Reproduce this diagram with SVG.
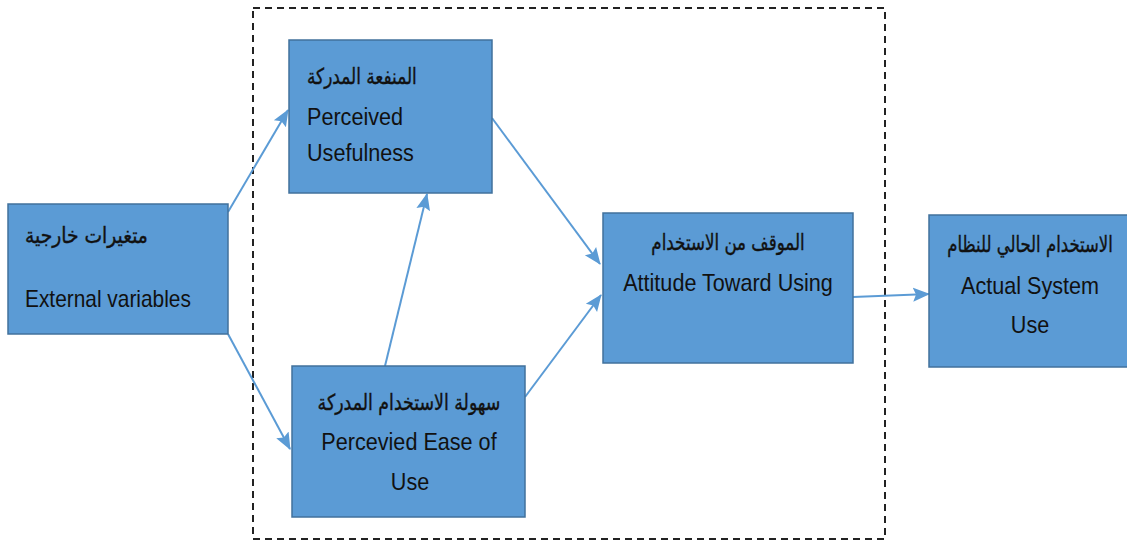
<svg xmlns="http://www.w3.org/2000/svg" width="1127" height="542" viewBox="0 0 1127 542">
  <style>
    .box { fill: #5B9BD5; stroke: #41719C; stroke-width: 1.5; }
    .frame { fill: none; stroke: #222; stroke-width: 2; stroke-dasharray: 7 5; }
    .link { fill: none; stroke: #5B9BD5; stroke-width: 2; }
    .lbl { font-family: "Liberation Sans", "DejaVu Sans", sans-serif; font-size: 24px; fill: #111; }
    .ar { font-family: "DejaVu Sans", "Liberation Sans", sans-serif; font-size: 22px; fill: #111; stroke: #111; stroke-width: 0.4; }
  </style>
  <defs>
    <marker id="arrow" markerUnits="userSpaceOnUse" markerWidth="17" markerHeight="17" viewBox="0 0 17 17" refX="16" refY="8.5" orient="auto">
      <path d="M0,1.5 L17,8.5 L0,15.5 L3,8.5 Z" fill="#5B9BD5"/>
    </marker>
  </defs>

  <rect width="1127" height="542" fill="#fff"/>

  <!-- dashed boundary around the core model -->
  <rect class="frame" x="253" y="8" width="632" height="531"/>

  <g id="connectors">
    <line class="link" x1="228" y1="212" x2="288" y2="110" marker-end="url(#arrow)"/>
    <line class="link" x1="228" y1="334" x2="290" y2="449" marker-end="url(#arrow)"/>
    <line class="link" x1="492" y1="118" x2="600" y2="264" marker-end="url(#arrow)"/>
    <line class="link" x1="385" y1="366" x2="427" y2="194" marker-end="url(#arrow)"/>
    <line class="link" x1="525" y1="397" x2="601" y2="295" marker-end="url(#arrow)"/>
    <line class="link" x1="853" y1="297" x2="929" y2="294" marker-end="url(#arrow)"/>
  </g>

  <g id="external-variables">
    <rect class="box" x="8" y="204" width="220" height="130"/>
    <text class="ar" transform="translate(25,243) scale(0.85,1)">متغيرات خارجية</text>
    <text class="lbl" transform="translate(25,307) scale(0.87,1)">External variables</text>
  </g>

  <g id="perceived-usefulness">
    <rect class="box" x="289" y="40" width="203" height="153"/>
    <text class="ar" transform="translate(307,84) scale(0.77,1)">المنفعة المدركة</text>
    <text class="lbl" transform="translate(307,125) scale(0.9,1)">Perceived</text>
    <text class="lbl" transform="translate(307,161) scale(0.9,1)">Usefulness</text>
  </g>

  <g id="perceived-ease-of-use">
    <rect class="box" x="292" y="366" width="233" height="151"/>
    <text class="ar" text-anchor="middle" transform="translate(409,410) scale(0.79,1)">سهولة الاستخدام المدركة</text>
    <text class="lbl" text-anchor="middle" transform="translate(409,450) scale(0.9,1)">Percevied Ease of</text>
    <text class="lbl" text-anchor="middle" transform="translate(410,490) scale(0.9,1)">Use</text>
  </g>

  <g id="attitude-toward-using">
    <rect class="box" x="603" y="213" width="250" height="150"/>
    <text class="ar" text-anchor="middle" transform="translate(728,250) scale(0.76,1)">الموقف من الاستخدام</text>
    <text class="lbl" text-anchor="middle" transform="translate(728,291) scale(0.9,1)">Attitude Toward Using</text>
  </g>

  <g id="actual-system-use">
    <rect class="box" x="929" y="215" width="200" height="152"/>
    <text class="ar" text-anchor="middle" transform="translate(1030,252) scale(0.75,1)">الاستخدام الحالي للنظام</text>
    <text class="lbl" text-anchor="middle" transform="translate(1030,294) scale(0.9,1)">Actual System</text>
    <text class="lbl" text-anchor="middle" transform="translate(1030,333) scale(0.9,1)">Use</text>
  </g>
</svg>
